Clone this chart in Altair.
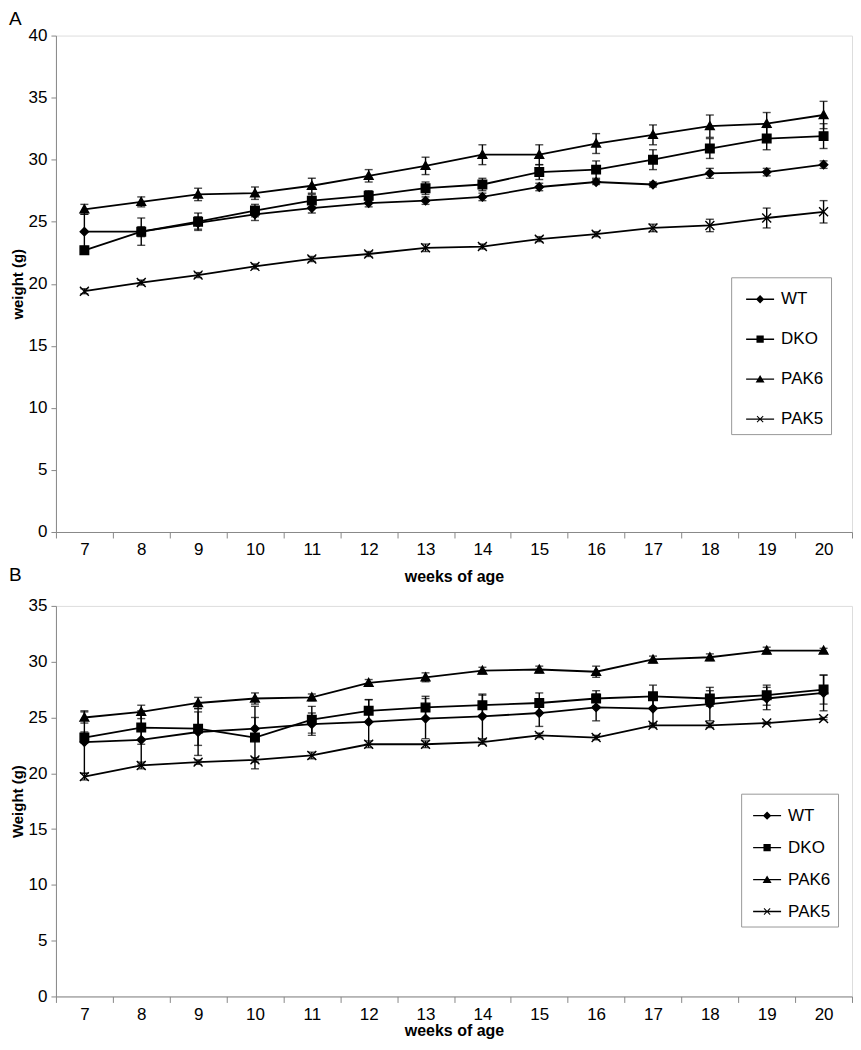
import altair as alt
import pandas as pd

weeks = list(range(7, 21))
series = ["WT", "DKO", "PAK6", "PAK5"]

# Panel A
wt_a = [24.2, 24.2, 24.9, 25.6, 26.1, 26.5, 26.7, 27.0, 27.8, 28.2, 28.0, 28.9, 29.0, 29.6]
wt_a_err = [1.4, 0.4, 0.5, 0.5, 0.4, 0.3, 0.3, 0.3, 0.3, 0.2, 0.2, 0.4, 0.3, 0.3]
dko_a = [22.7, 24.2, 25.0, 25.9, 26.7, 27.1, 27.7, 28.0, 29.0, 29.2, 30.0, 30.9, 31.7, 31.9]
dko_a_err = [0.3, 1.1, 0.7, 0.5, 0.5, 0.4, 0.5, 0.5, 0.6, 0.7, 0.8, 0.8, 0.9, 1.0]
pak6_a = [26.0, 26.6, 27.2, 27.3, 27.9, 28.7, 29.5, 30.4, 30.4, 31.3, 32.0, 32.7, 32.9, 33.6]
pak6_a_err = [0.4, 0.4, 0.5, 0.5, 0.6, 0.5, 0.7, 0.8, 0.8, 0.8, 0.8, 0.9, 0.9, 1.1]
pak5_a = [19.4, 20.1, 20.7, 21.4, 22.0, 22.4, 22.9, 23.0, 23.6, 24.0, 24.5, 24.7, 25.3, 25.8]
pak5_a_err = [0.2, 0.2, 0.2, 0.2, 0.2, 0.2, 0.3, 0.2, 0.2, 0.2, 0.3, 0.5, 0.8, 0.9]

# Panel B
wt_b = [22.8, 23.0, 23.7, 24.0, 24.4, 24.6, 24.9, 25.1, 25.4, 25.9, 25.8, 26.2, 26.7, 27.2]
wt_b_err = [2.8, 2.2, 2.1, 1.0, 1.0, 2.0, 1.8, 2.0, 1.2, 1.2, 1.4, 1.5, 1.0, 1.6]
dko_b = [23.2, 24.1, 24.0, 23.2, 24.8, 25.6, 25.9, 26.1, 26.3, 26.7, 26.9, 26.7, 27.0, 27.5]
dko_b_err = [0.5, 1.5, 1.5, 2.8, 1.2, 1.0, 1.0, 0.9, 0.9, 0.7, 1.0, 0.7, 0.9, 1.3]
pak6_b = [25.0, 25.5, 26.3, 26.7, 26.8, 28.1, 28.6, 29.2, 29.3, 29.1, 30.2, 30.4, 31.0, 31.0]
pak6_b_err = [0.5, 0.6, 0.5, 0.5, 0.3, 0.3, 0.4, 0.3, 0.3, 0.5, 0.3, 0.3, 0.3, 0.2]
pak5_b = [19.7, 20.7, 21.0, 21.2, 21.6, 22.6, 22.6, 22.8, 23.4, 23.2, 24.3, 24.3, 24.5, 24.9]
pak5_b_err = [0.3, 0.3, 0.2, 0.2, 0.3, 0.3, 0.3, 0.2, 0.2, 0.2, 0.2, 0.2, 0.1, 0.1]


def long_df(means, errs):
    rows = []
    for name, m, e in zip(series, means, errs):
        for w, v, s in zip(weeks, m, e):
            rows.append({"week": w, "series": name, "value": v, "lo": v - s, "hi": v + s})
    return pd.DataFrame(rows)


df_a = long_df([wt_a, dko_a, pak6_a, pak5_a], [wt_a_err, dko_a_err, pak6_a_err, pak5_a_err])
df_b = long_df([wt_b, dko_b, pak6_b, pak5_b], [wt_b_err, dko_b_err, pak6_b_err, pak5_b_err])

FONT = "Liberation Sans, Arial, sans-serif"
W = 797
STEP = W / len(weeks)

marker_paths = [
    "M0,-1L1,0L0,1L-1,0Z",
    "M-1,-1H1V1H-1Z",
    "M0,-1L1,0.8H-1Z",
    "M-1,-1L1,1M-1,1L1,-1",
]
# legend symbols: a line through a marker, all drawn as filled shapes
legend_paths = [
    "M-1,-0.05H1V0.05H-1Z M0,-0.3L0.3,0L0,0.3L-0.3,0Z",
    "M-1,-0.05H1V0.05H-1Z M-0.26,-0.26H0.26V0.26H-0.26Z",
    "M-1,-0.05H1V0.05H-1Z M0,-0.3L0.32,0.24H-0.32Z",
    "M-1,-0.05H1V0.05H-1Z M-0.195,-0.245L0.245,0.195L0.195,0.245L-0.245,-0.195Z "
    "M-0.245,0.195L0.195,-0.245L0.245,-0.195L-0.195,0.245Z",
]
marker_sizes = [70, 80, 110, 60]

# ticks at the edges of each week's slot; labels shifted back to the slot centres
tick_vals = [weeks[0] - 0.5] + [w + 0.5 for w in weeks]


def panel(df, ymax, ytitle, letter, height, legend_x, legend_y, row_pad, leg_pad,
          sym_off, title_offset, xtitle_pad):
    x = alt.X(
        "week:Q",
        scale=alt.Scale(domain=[weeks[0] - 0.5, weeks[-1] + 0.5], nice=False, zero=False),
        axis=alt.Axis(
            values=tick_vals,
            labelExpr="datum.value > %s ? format(datum.value - 0.5, 'd') : ''" % (weeks[0]),
            labelOffset=-STEP / 2,
            labelFlush=False,
            labelOverlap=False,
            labelFont=FONT,
            labelFontSize=17,
            labelPadding=4,
            tickSize=6,
            title="weeks of age",
            titleFont=FONT,
            titleFontSize=16,
            titleFontWeight="bold",
            titlePadding=xtitle_pad,
            grid=False,
        ),
    )
    y_scale = alt.Scale(domain=[0, ymax], nice=False, zero=True)
    y = alt.Y(
        "value:Q",
        scale=y_scale,
        axis=alt.Axis(
            values=list(range(0, ymax + 1, 5)),
            labelFont=FONT,
            labelFontSize=17,
            labelPadding=4,
            tickSize=5,
            title=ytitle,
            titleFont=FONT,
            titleFontSize=15,
            titleFontWeight="bold",
            titlePadding=3,
            grid=False,
        ),
    )
    base = alt.Chart(df)
    lines = base.mark_line(color="black", strokeWidth=1.8).encode(x=x, y=y, detail="series:N")
    rules = base.mark_rule(color="black", strokeWidth=1.4).encode(
        x=x, y=alt.Y("lo:Q", scale=y_scale), y2="hi:Q", detail="series:N"
    )
    cap_lo = base.mark_tick(color="black", orient="horizontal", size=8, thickness=1.4).encode(
        x=x, y=alt.Y("lo:Q", scale=y_scale)
    )
    cap_hi = base.mark_tick(color="black", orient="horizontal", size=8, thickness=1.4).encode(
        x=x, y=alt.Y("hi:Q", scale=y_scale)
    )
    points = base.mark_point(
        filled=True, fill="black", stroke="black", strokeWidth=1.4, opacity=1
    ).encode(
        x=x,
        y=y,
        shape=alt.Shape("series:N", scale=alt.Scale(domain=series, range=marker_paths), legend=None),
        size=alt.Size("series:N", scale=alt.Scale(domain=series, range=marker_sizes), legend=None),
    )
    leg = (
        base.transform_filter("false")
        .mark_point(filled=True, fill="black", opacity=1)
        .encode(
            shape=alt.Shape(
                "series:N",
                scale=alt.Scale(domain=series, range=legend_paths),
                legend=alt.Legend(
                    title=None,
                    orient="none",
                    legendX=legend_x,
                    legendY=legend_y,
                    strokeColor="#999999",
                    fillColor="white",
                    padding=leg_pad,
                    rowPadding=row_pad,
                    symbolSize=784,
                    symbolFillColor="black",
                    symbolOffset=sym_off,
                    labelFont=FONT,
                    labelFontSize=17,
                    labelOffset=6,
                    labelLimit=200,
                ),
            )
        )
    )
    return (
        alt.layer(lines, rules, cap_lo, cap_hi, points, leg)
        .resolve_scale(shape="independent", size="independent")
        .properties(
            width=W,
            height=height,
            title=alt.TitleParams(
                text=letter,
                anchor="start",
                frame="group",
                dx=-47,
                font=FONT,
                fontSize=19,
                fontWeight="normal",
                offset=title_offset,
            ),
        )
    )


chart_a = panel(df_a, 40, "weight (g)", "A", 497, 676, 242, 17, 7, 7, -2, 11)
chart_b = panel(df_b, 35, "Weight (g)", "B", 391, 686, 188, 9, 7, 4, 12, 0)

chart = (
    alt.vconcat(chart_a, chart_b, spacing=74, bounds="flush")
    .resolve_scale(shape="independent", size="independent")
    .resolve_legend(shape="independent")
    .properties(padding=0)
    .configure_view(stroke=None)
    .configure_axis(domainColor="#8a8a8a", tickColor="#8a8a8a", labelColor="#222222", titleColor="black")
    .configure(background="white")
)

chart.save("out.html", embed_options={"renderer": "svg", "actions": False})
